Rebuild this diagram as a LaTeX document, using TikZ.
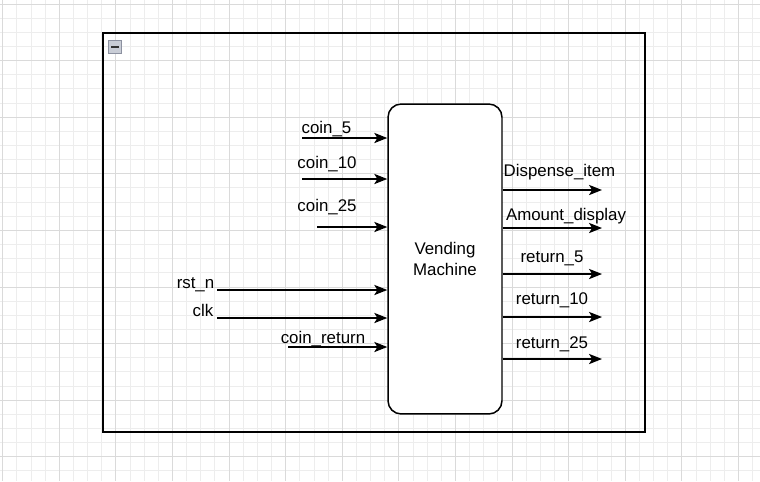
\documentclass[tikz,border=0pt]{standalone}
\usepackage{fontspec}
\setmainfont{Liberation Sans}
\usepackage{xcolor}
\usepackage{tikz}
\usetikzlibrary{arrows.meta}

\definecolor{gridminor}{HTML}{EDEDED}
\definecolor{gridmajor}{HTML}{DADADA}
\definecolor{iconfill}{HTML}{C9CDD6}
\definecolor{iconline}{HTML}{8C91A0}

\tikzset{
  sig/.style={line width=0.85pt, -{Stealth[length=7.4pt,width=5.8pt,inset=1.8pt]}},
  lbl/.style={font=\fontsize{9.6}{12.4}\selectfont, inner sep=0pt, anchor=base},
}

\begin{document}
\begin{tikzpicture}[x=0.02cm,y=-0.02cm]
\useasboundingbox (0,0) rectangle (760,481);
\fill[white] (0,0) rectangle (760,481);

\foreach \i in {0,...,53}
  \draw[gridminor, line width=0.55pt] ({2.7+14.15*\i},0) -- ++(0,481);
\foreach \j in {0,...,33}
  \draw[gridminor, line width=0.55pt] (0,{4+14.15*\j}) -- ++(760,0);
\foreach \i in {0,...,13}
  \draw[gridmajor, line width=0.55pt] ({2.7+56.6*\i},0) -- ++(0,481);
\foreach \j in {0,...,8}
  \draw[gridmajor, line width=0.55pt] (0,{4+56.6*\j}) -- ++(760,0);

\draw[line width=0.85pt] (103,33) rectangle (645,432);
\draw[iconline, fill=iconfill, line width=0.5pt] (108.5,40.5) rectangle (121.5,53);
\draw[black!80, line width=1.1pt] (111,46.8) -- (119,46.8);

\node[draw, line width=0.85pt, fill=white, rounded corners=7.5pt,
      minimum width=2.28cm, minimum height=6.2cm, align=center,
      font=\fontsize{9.6}{12.4}\selectfont] (vm) at (445,259) {Vending\\Machine};

\coordinate (c5) at (302,138);
\coordinate (c10) at (302,179);
\coordinate (c25) at (317,227);
\coordinate (rst) at (217,290);
\coordinate (clk) at (217,318);
\coordinate (cret) at (288,347);

\draw[sig] (c5) -- (c5 -| vm.west);
\draw[sig] (c10) -- (c10 -| vm.west);
\draw[sig] (c25) -- (c25 -| vm.west);
\draw[sig] (rst) -- (rst -| vm.west);
\draw[sig] (clk) -- (clk -| vm.west);
\draw[sig] (cret) -- (cret -| vm.west);

\node[lbl] (c5l) at (326.5,133.5) {coin\_5};
\node[lbl] (c10l) at (327,168.5) {coin\_10};
\node[lbl] (c25l) at (327,211) {coin\_25};
\node[lbl] (rstl) at (195.5,288) {rst\_n};
\node[lbl] (clkl) at (203,316.5) {clk};
\node[lbl] (cretl) at (323,343.5) {coin\_return};

\coordinate (di) at (602,190);
\coordinate (ad) at (602,228);
\coordinate (r5) at (602,274);
\coordinate (r10) at (602,317);
\coordinate (r25) at (602,359);

\draw[sig] (di -| vm.east) -- (di);
\draw[sig] (ad -| vm.east) -- (ad);
\draw[sig] (r5 -| vm.east) -- (r5);
\draw[sig] (r10 -| vm.east) -- (r10);
\draw[sig] (r25 -| vm.east) -- (r25);

\node[lbl] (dil) at (559.5,176.7) {Dispense\_item};
\node[lbl] (adl) at (566,220.3) {Amount\_display};
\node[lbl] (r5l) at (552,262.3) {return\_5};
\node[lbl] (r10l) at (552,304.3) {return\_10};
\node[lbl] (r25l) at (552,348) {return\_25};

\end{tikzpicture}
\end{document}
